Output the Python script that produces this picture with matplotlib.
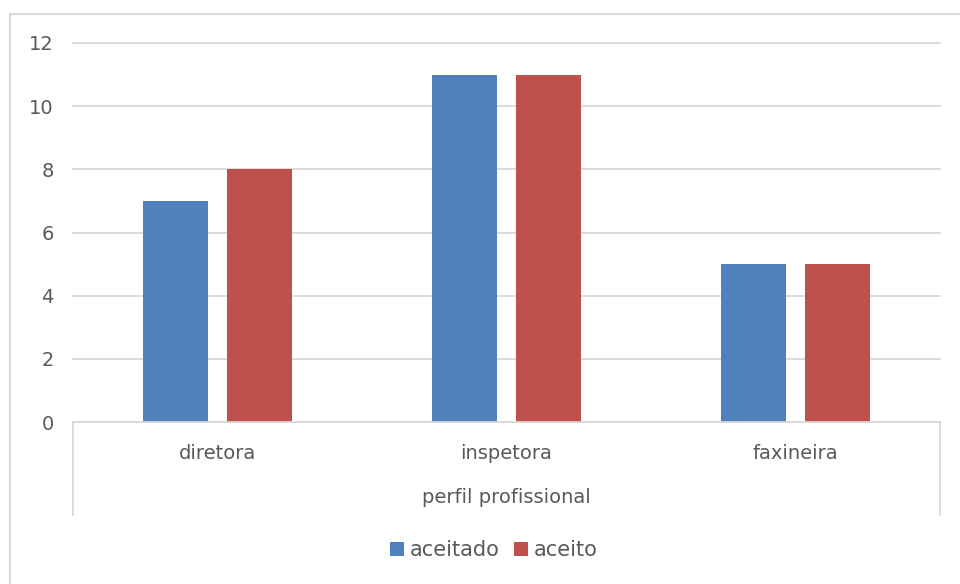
import numpy as np
import matplotlib.pyplot as plt
from matplotlib.lines import Line2D

# dados
categorias = ['diretora', 'inspetora', 'faxineira']
aceitado = [7, 11, 5]
aceito = [8, 11, 5]
yticks = [0, 2, 4, 6, 8, 10, 12]

azul = '#4f81bd'
vermelho = '#c0504d'
cinza_txt = '#595959'
cinza_linha = '#d9d9d9'

plt.rcParams['font.family'] = ['DejaVu Sans']

fig = plt.figure(figsize=(9.6, 5.84), dpi=100)
ax = fig.add_axes([73/960, 1-422/584, (940-73)/960, (422-43)/584])

x = np.arange(len(categorias))
w = 0.225
ax.bar(x - 0.145, aceitado, w, color=azul, label='aceitado', zorder=3)
ax.bar(x + 0.145, aceito, w, color=vermelho, label='aceito', zorder=3)

ax.set_xlim(-0.5, 2.5)
ax.set_ylim(0, 12)
ax.set_yticks(yticks)
ax.set_yticklabels([str(v) for v in yticks])
ax.tick_params(axis='y', length=0, pad=14, labelsize=14, labelcolor=cinza_txt)
ax.set_xticks([])
ax.grid(axis='y', color=cinza_linha, lw=1.3, zorder=0)
for gl in ax.get_ygridlines():
    gl.set_clip_on(False)
for s in ['top', 'right', 'left']:
    ax.spines[s].set_visible(False)
ax.spines['bottom'].set_color(cinza_linha)
ax.spines['bottom'].set_linewidth(1.3)
ax.spines['bottom'].set_zorder(4)

# eixo de categorias em dois niveis
for xv in [0, 1]:
    ax.plot([xv, xv], [0, -0.245], transform=ax.transAxes, color=cinza_linha,
            lw=1.3, clip_on=False)
for i, c in enumerate(categorias):
    ax.text(i, -0.082, c, transform=ax.get_xaxis_transform(), ha='center',
            va='center', fontsize=14, color=cinza_txt)
ax.text(0.5, -0.198, 'perfil profissional', transform=ax.transAxes,
        ha='center', va='center', fontsize=14, color=cinza_txt)

fig.legend(loc='center', bbox_to_anchor=(494/960, 1-550/584), ncol=2,
           frameon=False, fontsize=15, handlelength=0.65, handleheight=0.65,
           handletextpad=0.3, columnspacing=0.7, labelcolor=cinza_txt)

# moldura do grafico
fig.add_artist(Line2D([10/960, 10/960], [0, 1-14/584], color=cinza_linha, lw=1.5))
fig.add_artist(Line2D([10/960, 1], [1-14/584, 1-14/584], color=cinza_linha, lw=1.5))

fig.savefig('out.png', dpi=100)
